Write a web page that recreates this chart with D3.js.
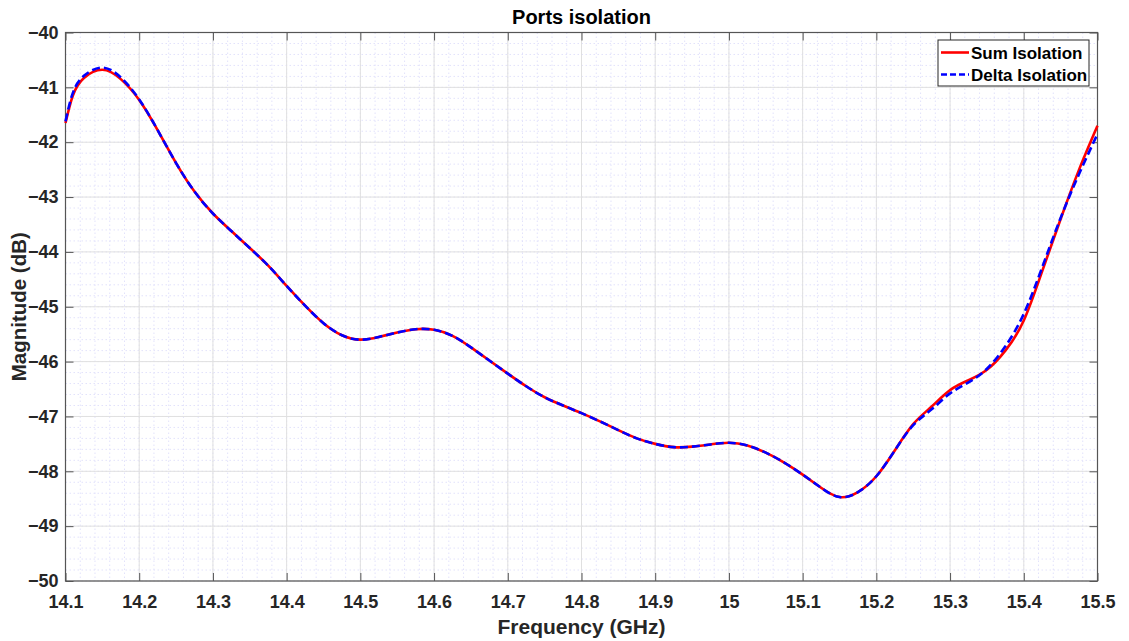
<!DOCTYPE html>
<html>
<head>
<meta charset="utf-8">
<script src="https://cdn.jsdelivr.net/npm/d3@7"></script>
<style>
  body { margin: 0; background: #fff; }
  svg { font-family: "Liberation Sans", Arial, sans-serif; }
</style>
</head>
<body>
<svg id="chart" width="1129" height="641"></svg>
<script>
// frequency points (GHz)
const freq = [14.10, 14.11, 14.125, 14.15, 14.175, 14.20, 14.225, 14.25, 14.275, 14.30,
  14.325, 14.35, 14.375, 14.40, 14.425, 14.45, 14.475, 14.50, 14.525, 14.55,
  14.575, 14.60, 14.625, 14.65, 14.675, 14.70, 14.725, 14.75, 14.775, 14.80,
  14.825, 14.85, 14.875, 14.90, 14.925, 14.95, 14.975, 15.00, 15.025, 15.05,
  15.075, 15.10, 15.125, 15.15, 15.175, 15.20, 15.225, 15.25, 15.275, 15.30,
  15.325, 15.35, 15.375, 15.40, 15.425, 15.45, 15.475, 15.50];

const sumIso = [-41.65, -41.15, -40.83, -40.68, -40.85, -41.23, -41.78, -42.38, -42.90, -43.30,
  -43.62, -43.93, -44.25, -44.62, -44.98, -45.30, -45.52, -45.60, -45.55, -45.47,
  -45.41, -45.42, -45.53, -45.74, -45.98, -46.22, -46.45, -46.65, -46.80, -46.94,
  -47.09, -47.25, -47.40, -47.50, -47.56, -47.55, -47.51, -47.48, -47.53, -47.66,
  -47.84, -48.06, -48.30, -48.47, -48.38, -48.09, -47.62, -47.14, -46.82, -46.52,
  -46.34, -46.15, -45.80, -45.25, -44.35, -43.40, -42.50, -41.70];

const deltaIso = [-41.62, -41.10, -40.79, -40.64, -40.82, -41.22, -41.78, -42.38, -42.90, -43.30,
  -43.62, -43.93, -44.25, -44.62, -44.98, -45.30, -45.52, -45.60, -45.55, -45.47,
  -45.41, -45.42, -45.53, -45.74, -45.98, -46.22, -46.45, -46.65, -46.80, -46.94,
  -47.09, -47.25, -47.40, -47.50, -47.56, -47.55, -47.51, -47.48, -47.53, -47.66,
  -47.84, -48.06, -48.30, -48.47, -48.38, -48.09, -47.62, -47.16, -46.87, -46.58,
  -46.38, -46.13, -45.72, -45.13, -44.28, -43.38, -42.58, -41.85];

const xTicks = d3.range(14.1, 15.5001, 0.1);
const yTicks = d3.range(-50, -39.999, 1);
const seriesNames = ["Sum Isolation", "Delta Isolation"];

const mLeft = 65.5, mRight = 1097.5, mTop = 32.5, mBottom = 581;
const svg = d3.select("#chart");

const x = d3.scaleLinear().domain([14.1, 15.5]).range([mLeft, mRight]);
const y = d3.scaleLinear().domain([-50, -40]).range([mBottom, mTop]);

// minor grid
const xMinor = d3.range(14.1, 15.5001, 0.02);
const yMinor = d3.range(-50, -39.999, 0.2);
const grid = svg.append("g");
grid.selectAll(".mx").data(xMinor).enter().append("line")
  .attr("x1", d => x(d)).attr("x2", d => x(d))
  .attr("y1", mTop).attr("y2", mBottom)
  .attr("stroke", "#e2e2fb").attr("stroke-width", 1).attr("stroke-dasharray", "1.5,2.5");
grid.selectAll(".my").data(yMinor).enter().append("line")
  .attr("y1", d => y(d)).attr("y2", d => y(d))
  .attr("x1", mLeft).attr("x2", mRight)
  .attr("stroke", "#e2e2fb").attr("stroke-width", 1).attr("stroke-dasharray", "1.5,2.5");

// major grid
grid.selectAll(".gx").data(xTicks).enter().append("line")
  .attr("x1", d => x(d)).attr("x2", d => x(d))
  .attr("y1", mTop).attr("y2", mBottom)
  .attr("stroke", "#e0e0e0").attr("stroke-width", 1);
grid.selectAll(".gy").data(yTicks).enter().append("line")
  .attr("y1", d => y(d)).attr("y2", d => y(d))
  .attr("x1", mLeft).attr("x2", mRight)
  .attr("stroke", "#e0e0e0").attr("stroke-width", 1);

// axes with inward ticks
const fmtX = d => d3.format(".1f")(d).replace(/\.0$/, "");
svg.append("g").attr("transform", `translate(0,${mBottom})`)
  .call(d3.axisBottom(x).tickValues(xTicks).tickSize(-8).tickPadding(14).tickFormat(fmtX))
  .call(g => g.select(".domain").remove());
svg.append("g").attr("transform", `translate(0,${mTop})`)
  .call(d3.axisTop(x).tickValues(xTicks).tickSize(-8).tickFormat(""))
  .call(g => g.select(".domain").remove());
svg.append("g").attr("transform", `translate(${mLeft},0)`)
  .call(d3.axisLeft(y).tickValues(yTicks).tickSize(-8).tickPadding(7).tickFormat(d3.format("d")))
  .call(g => g.select(".domain").remove());
svg.append("g").attr("transform", `translate(${mRight},0)`)
  .call(d3.axisRight(y).tickValues(yTicks).tickSize(-8).tickFormat(""))
  .call(g => g.select(".domain").remove());

svg.selectAll(".tick line").attr("stroke", "#555").attr("stroke-width", 1);
svg.selectAll(".tick text")
  .attr("font-size", 18).attr("font-weight", "bold").attr("fill", "#262626")
  .attr("font-family", "Liberation Sans, Arial, sans-serif");

// box
svg.append("rect").attr("x", mLeft).attr("y", mTop)
  .attr("width", mRight - mLeft).attr("height", mBottom - mTop)
  .attr("fill", "none").attr("stroke", "#555").attr("stroke-width", 1.2);

// lines
const line = vals => d3.line()
  .x((d, i) => x(freq[i]))
  .y(d => y(d))
  .curve(d3.curveNatural)(vals);

const plot = svg.append("g");
plot.append("path").attr("d", line(sumIso))
  .attr("fill", "none").attr("stroke", "#ff0000").attr("stroke-width", 2.6);
plot.append("path").attr("d", line(deltaIso))
  .attr("fill", "none").attr("stroke", "#0000ff").attr("stroke-width", 2.6)
  .attr("stroke-dasharray", "8,4");

// title and labels
svg.append("text").attr("x", (mLeft + mRight) / 2).attr("y", 24)
  .attr("text-anchor", "middle").attr("font-size", 20).attr("font-weight", "bold")
  .attr("fill", "#000").text("Ports isolation");
svg.append("text").attr("x", (mLeft + mRight) / 2).attr("y", 634)
  .attr("text-anchor", "middle").attr("font-size", 21).attr("font-weight", "bold")
  .attr("fill", "#262626").text("Frequency (GHz)");
svg.append("text")
  .attr("transform", `translate(26,${(mTop + mBottom) / 2}) rotate(-90)`)
  .attr("text-anchor", "middle").attr("font-size", 20.5).attr("font-weight", "bold")
  .attr("fill", "#262626").text("Magnitude (dB)");

// legend
const lg = svg.append("g").attr("transform", "translate(938,40)");
lg.append("rect").attr("width", 151).attr("height", 46)
  .attr("fill", "#fff").attr("stroke", "#262626").attr("stroke-width", 1);
const styles = [{ c: "#ff0000", dash: null }, { c: "#0000ff", dash: "6,3" }];
seriesNames.forEach((name, i) => {
  const yy = 12.5 + i * 22;
  lg.append("line").attr("x1", 3).attr("x2", 31).attr("y1", yy).attr("y2", yy)
    .attr("stroke", styles[i].c).attr("stroke-width", 2.6)
    .attr("stroke-dasharray", styles[i].dash);
  lg.append("text").attr("x", 33).attr("y", yy + 6)
    .attr("font-size", 17).attr("font-weight", "bold").attr("fill", "#000").text(name);
});
</script>
</body>
</html>
